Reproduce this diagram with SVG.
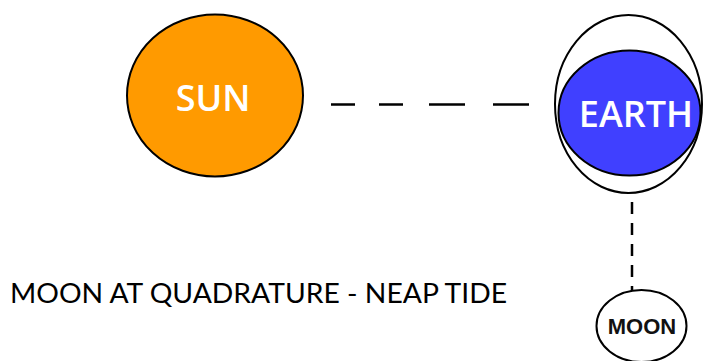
<svg xmlns="http://www.w3.org/2000/svg" width="703" height="361" viewBox="0 0 703 361">
<style>
.outline{stroke:#000;stroke-width:2}
.body{font-family:"Open Sans","Noto Sans",sans-serif;font-weight:600;fill:#fff;font-size:36px;text-anchor:middle}
.dash{stroke:#000;stroke-width:2.5;fill:none}
</style>
<rect width="703" height="361" fill="#fff"/>
<g id="connectors">
<path class="dash" d="M331 104.5H355M379 104.5H403M429 104.5H465M493 104.5H529"/>
<line class="dash" x1="632" y1="202" x2="632" y2="291" stroke-dasharray="12 9"/>
</g>
<g id="sun">
<ellipse class="outline" cx="215" cy="95.5" rx="88" ry="81" fill="#FF9A00"/>
<text class="body" x="213" y="111">SUN</text>
</g>
<g id="earth">
<ellipse class="outline" cx="628.5" cy="104" rx="73.5" ry="89" fill="none"/>
<ellipse class="outline" cx="629.5" cy="113" rx="71" ry="62.5" fill="#4040FF"/>
<text class="body" x="636" y="127">EARTH</text>
</g>
<g id="moon">
<ellipse class="outline" cx="641.5" cy="326" rx="45" ry="36" fill="#fff"/>
<text x="642" y="334" font-family="Liberation Sans, Arial, sans-serif" font-weight="bold" font-size="22" text-anchor="middle" fill="#111">MOON</text>
</g>
<g id="caption">
<text x="10" y="303" font-family="Lato, 'Liberation Sans', sans-serif" font-size="27" fill="#000" textLength="497" lengthAdjust="spacingAndGlyphs">MOON AT QUADRATURE - NEAP TIDE</text>
</g>
</svg>
